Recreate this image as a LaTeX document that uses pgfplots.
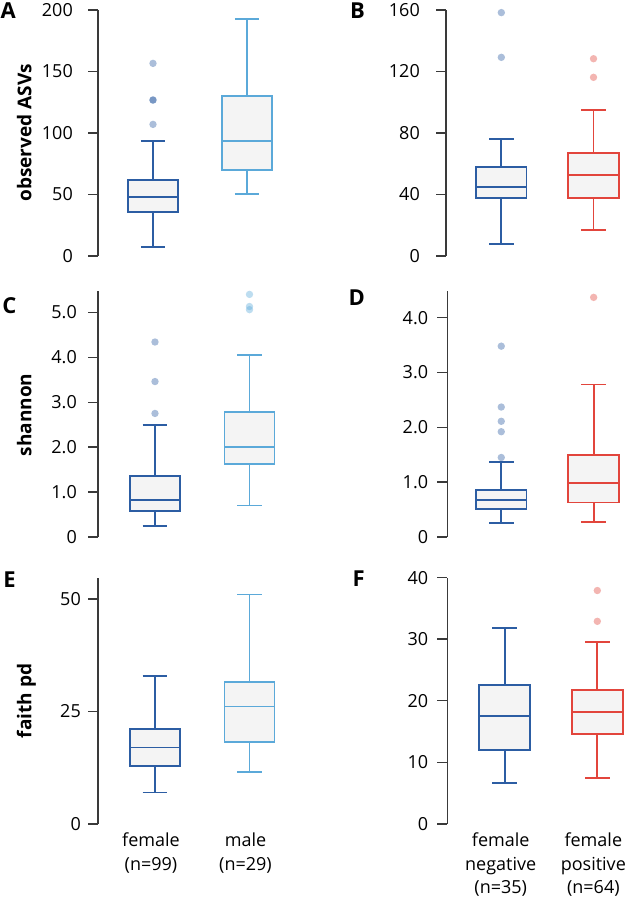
\documentclass[border=0pt]{standalone}
\usepackage{pgfplots}
\pgfplotsset{compat=1.18}
\usepgfplotslibrary{statistics}
\usepackage{fontspec}
\setmainfont{Open Sans}
\definecolor{cA}{HTML}{2C5DA3}
\definecolor{cB}{HTML}{5BA9D9}
\definecolor{cR}{HTML}{E2453C}
\definecolor{spine}{HTML}{3A3A3A}
\definecolor{boxfill}{HTML}{F4F4F4}
\newcommand{\tickfont}{\fontsize{18}{23.5}\selectfont}
\pgfplotsset{
  panel/.style={
    anchor=south west,
    scale only axis,
    clip=false,
    axis y line=left,
    axis x line=bottom,
    x axis line style={draw=none},
    y axis line style={-, line width=1.4pt, color=spine},
    xtick style={draw=none},
    ytick style={line width=1.4pt, color=spine},
    major tick length=10pt,
    tick align=outside,
    ymin=0,
    xmax=26,
    tick label style={font=\tickfont},
    yticklabel style={anchor=east, inner sep=0pt},
    xticklabel style={align=center, anchor=north, inner sep=0pt, xshift=-4pt, yshift=1pt},
    xtick=\empty,
  },
  bx/.style={draw=#1, fill=boxfill, line width=1.8pt, solid, mark=none, boxplot/draw direction=y},
  ol/.style={only marks, mark=*, mark size=3.7pt, mark options={fill=#1, fill opacity=0.4, draw opacity=0}},
}
\begin{document}
\begin{tikzpicture}
\path[use as bounding box] (0,0) rectangle (628pt,899pt);
% ---------------- A
\begin{axis}[panel, at={(98pt,643pt)}, width=205.39pt, height=246pt, xmin=4.15, ymax=200,
  ytick={0,50,100,150,200}, yticklabels={0,50,100,150,200},
  yticklabel style={xshift=-15pt}]
\addplot[bx=cA, boxplot prepared={draw position=10, lower whisker=7.6, lower quartile=36, median=48, upper quartile=61.5, upper whisker=93.2, box extend=5.3, whisker extend=2.6}] coordinates {};
\addplot[bx=cB, boxplot prepared={draw position=20, lower whisker=50.2, lower quartile=70.2, median=93.2, upper quartile=130.3, upper whisker=192.7, box extend=5.3, whisker extend=2.6}] coordinates {};
\addplot[ol=cA] coordinates {(10,156.6) (10,126.8) (10,126.8) (10,107)};
\end{axis}
% ---------------- B
\begin{axis}[panel, at={(446pt,643pt)}, width=202.84pt, height=246pt, xmin=4.0, ymax=160,
  ytick={0,40,80,120,160}, yticklabels={0,40,80,120,160},
  yticklabel style={xshift=-16pt}]
\addplot[bx=cA, boxplot prepared={draw position=10, lower whisker=7.8, lower quartile=37.7, median=45.1, upper quartile=58.1, upper whisker=76.1, box extend=5.47, whisker extend=2.65}] coordinates {};
\addplot[bx=cR, boxplot prepared={draw position=20, lower whisker=16.9, lower quartile=37.7, median=52.7, upper quartile=66.8, upper whisker=95.2, box extend=5.47, whisker extend=2.65}] coordinates {};
\addplot[ol=cA] coordinates {(10,158.3) (10,129.2)};
\addplot[ol=cR] coordinates {(20,128.3) (20,116.2)};
\end{axis}
% ---------------- C
\begin{axis}[panel, at={(98pt,362pt)}, width=208.18pt, height=246.2pt, xmin=3.97, ymax=5.48,
  ytick={0,1,2,3,4,5}, yticklabels={0,1.0,2.0,3.0,4.0,5.0},
  yticklabel style={xshift=-11pt}]
\addplot[bx=cA, boxplot prepared={draw position=10, lower whisker=0.25, lower quartile=0.58, median=0.82, upper quartile=1.36, upper whisker=2.49, box extend=5.3, whisker extend=2.6}] coordinates {};
\addplot[bx=cB, boxplot prepared={draw position=20, lower whisker=0.70, lower quartile=1.63, median=2.0, upper quartile=2.79, upper whisker=4.05, box extend=5.3, whisker extend=2.6}] coordinates {};
\addplot[ol=cA] coordinates {(10,4.34) (10,3.46) (10,2.75)};
\addplot[ol=cB] coordinates {(20,5.40) (20,5.13) (20,5.06)};
\end{axis}
% ---------------- D
\begin{axis}[panel, at={(447.3pt,362pt)}, width=201.8pt, height=246.2pt, xmin=4.16, ymax=4.49,
  ytick={0,1,2,3,4}, yticklabels={0,1.0,2.0,3.0,4.0},
  yticklabel style={xshift=-9pt}]
\addplot[bx=cA, boxplot prepared={draw position=10, lower whisker=0.26, lower quartile=0.51, median=0.67, upper quartile=0.86, upper whisker=1.37, box extend=5.47, whisker extend=2.65}] coordinates {};
\addplot[bx=cR, boxplot prepared={draw position=20, lower whisker=0.28, lower quartile=0.63, median=0.98, upper quartile=1.50, upper whisker=2.78, box extend=5.47, whisker extend=2.65}] coordinates {};
\addplot[ol=cA] coordinates {(10,3.48) (10,2.37) (10,2.11) (10,1.92) (10,1.45)};
\addplot[ol=cR] coordinates {(20,4.37)};
\end{axis}
% ---------------- E
\begin{axis}[panel, at={(98pt,75pt)}, width=208.18pt, height=246.15pt, xmin=3.97, ymax=54.7,
  ytick={0,25,50}, yticklabels={0,25,50},
  yticklabel style={xshift=-7pt},
  xtick={10,20}, xticklabels={{female\\(n=99)},{male\\(n=29)}}]
\addplot[bx=cA, boxplot prepared={draw position=10, lower whisker=7.0, lower quartile=12.9, median=17.0, upper quartile=21.1, upper whisker=32.9, box extend=5.3, whisker extend=2.6}] coordinates {};
\addplot[bx=cB, boxplot prepared={draw position=20, lower whisker=11.6, lower quartile=18.2, median=26.1, upper quartile=31.6, upper whisker=51.0, box extend=5.3, whisker extend=2.6}] coordinates {};
\end{axis}
% ---------------- F
\begin{axis}[panel, at={(447.3pt,75pt)}, width=205.57pt, height=246.4pt, xmin=3.8, ymax=40,
  ytick={0,10,20,30,40}, yticklabels={0,10,20,30,40},
  yticklabel style={xshift=-9pt},
  xtick={10,20}, xticklabels={{female\\negative\\(n=35)},{female\\positive\\(n=64)}}]
\addplot[bx=cA, boxplot prepared={draw position=10, lower whisker=6.6, lower quartile=12.0, median=17.5, upper quartile=22.5, upper whisker=31.8, box extend=5.47, whisker extend=2.65}] coordinates {};
\addplot[bx=cR, boxplot prepared={draw position=20, lower whisker=7.5, lower quartile=14.6, median=18.2, upper quartile=21.8, upper whisker=29.6, box extend=5.47, whisker extend=2.65}] coordinates {};
\addplot[ol=cR] coordinates {(20,37.9) (20,32.9)};
\end{axis}
% axis titles
\begin{scope}[every node/.style={font=\fontsize{19}{22}\selectfont\bfseries, rotate=90, anchor=base, inner sep=0pt}]
\node at (31.5pt,766pt) {observed ASVs};
\node at (31.5pt,484pt) {shannon};
\node at (31.5pt,198pt) {faith pd};
\end{scope}
% panel letters
\begin{scope}[every node/.style={font=\fontsize{22}{24}\selectfont\bfseries, anchor=base east, inner sep=0pt}]
\node at (16pt,880.7pt) {A};
\node at (365pt,880.7pt) {B};
\node at (16.5pt,585.7pt) {C};
\node at (365pt,593pt) {D};
\node at (16pt,311pt) {E};
\node at (365pt,312pt) {F};
\end{scope}
\end{tikzpicture}
\end{document}
